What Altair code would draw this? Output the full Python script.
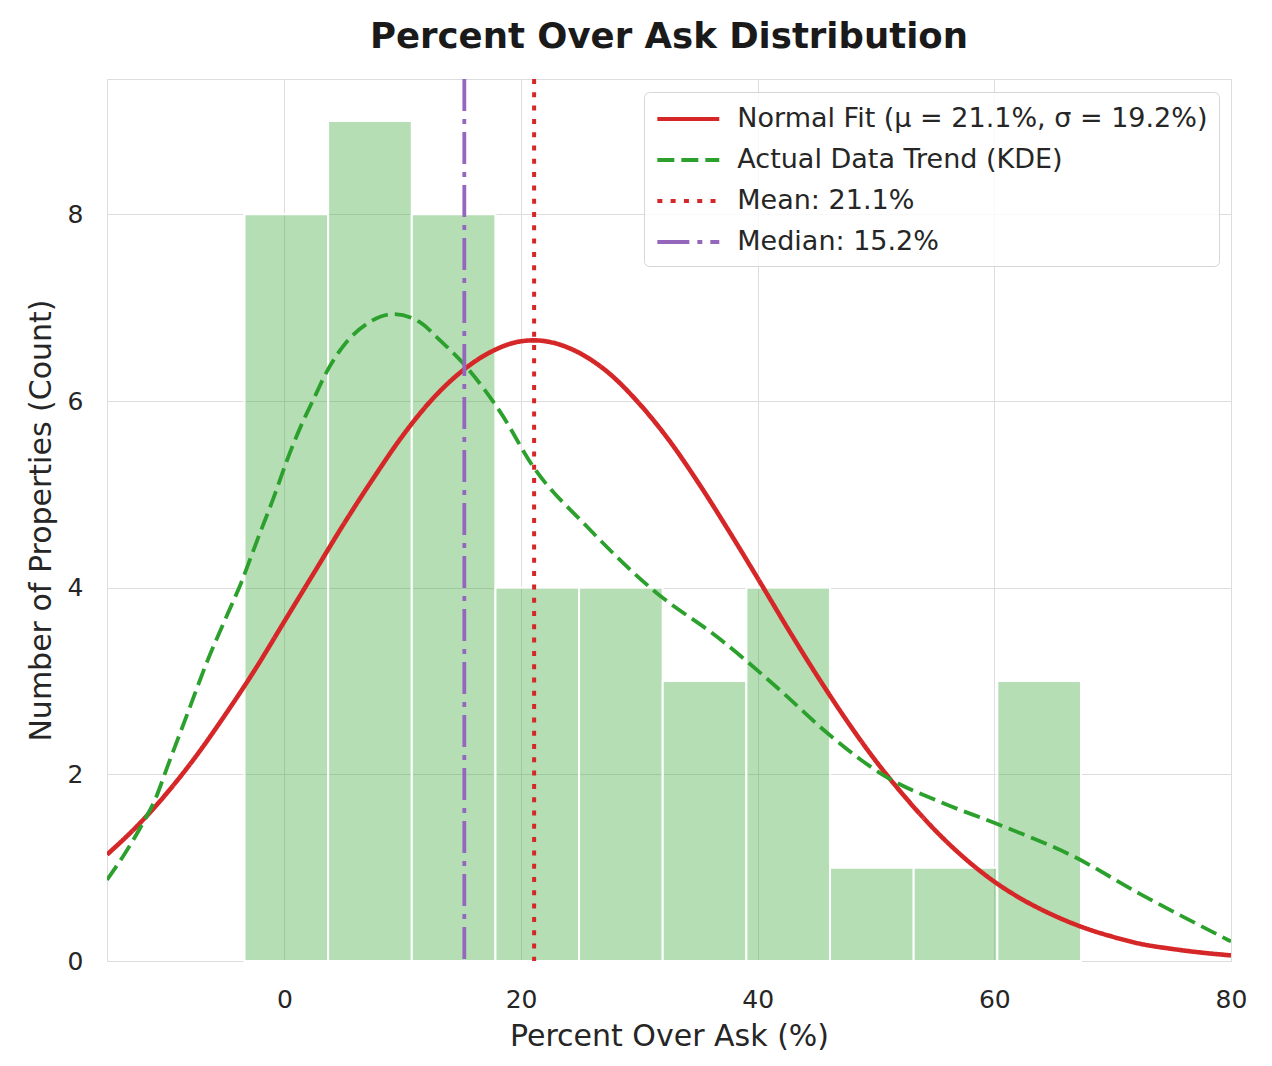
import altair as alt
import pandas as pd

# ---------------- data ----------------
bin_edges = [-3.38, 3.69, 10.76, 17.83, 24.90, 31.97, 39.04, 46.11, 53.18, 60.25, 67.32]
bin_counts = [8, 9, 8, 4, 4, 3, 4, 1, 1, 3]

normal_x = [-15, -12.5, -10, -7.5, -5, -2.5, 0, 2.5, 5, 7.5, 10, 12.5, 15, 17.5, 20, 21.1,
            22.5, 25, 27.5, 30, 32.5, 35, 37.5, 40, 42.5, 45, 47.5, 50, 52.5, 55, 57.5,
            60, 62.5, 65, 67.5, 70, 72.5, 75, 77.5, 80]
normal_y = [1.14, 1.44, 1.79, 2.19, 2.64, 3.12, 3.64, 4.16, 4.68, 5.17, 5.63, 6.02, 6.32, 6.53,
            6.64, 6.65, 6.63, 6.51, 6.29, 5.97, 5.58, 5.12, 4.62, 4.10, 3.57, 3.06, 2.58, 2.14,
            1.75, 1.40, 1.10, 0.85, 0.65, 0.49, 0.36, 0.26, 0.18, 0.13, 0.09, 0.06]

kde_x = [-15, -13.5, -12, -10.9, -9.9, -8.2, -6.5, -4.8, -3.7, -2.3, -0.9, 0.2, 1.35, 2.5,
         3.6, 5.3, 7.0, 9.2, 11.5, 12.9, 15.2, 18.3, 21, 25.6, 31.2, 36.8, 41.9, 45.9, 50.9,
         55.5, 60.2, 66.7, 72.3, 80]
kde_y = [0.87, 1.15, 1.47, 1.74, 2.08, 2.65, 3.22, 3.72, 4.04, 4.51, 4.97, 5.36, 5.72, 6.03,
         6.32, 6.64, 6.83, 6.93, 6.84, 6.68, 6.39, 5.87, 5.30, 4.65, 3.97, 3.45, 2.90, 2.44,
         1.97, 1.70, 1.47, 1.12, 0.72, 0.21]

mean_value = [21.1]
median_value = [15.2]

series_names = ["Normal Fit (μ = 21.1%, σ = 19.2%)", "Actual Data Trend (KDE)",
                "Mean: 21.1%", "Median: 15.2%"]
x_ticks = [0, 20, 40, 60, 80]
y_ticks = [0, 2, 4, 6, 8]

# ---------------- styles ----------------
series_colors = ["#d62728", "#2ca02c", "#d62728", "#9467bd"]
series_dashes = [[1, 0], [17, 7], [5, 8.3], [32, 8, 5, 8]]
FONT = "DejaVu Sans"
TEXT = "#262626"

bars_df = pd.DataFrame({"x0": bin_edges[:-1], "x1": bin_edges[1:], "count": bin_counts})
normal_df = pd.DataFrame({"x": normal_x, "y": normal_y, "series": series_names[0]})
kde_df = pd.DataFrame({"x": kde_x, "y": kde_y, "series": series_names[1]})
mean_df = pd.DataFrame({"x": mean_value, "series": series_names[2]})
median_df = pd.DataFrame({"x": median_value, "series": series_names[3]})

xscale = alt.Scale(domain=[-15, 80], nice=False, zero=False)
yscale = alt.Scale(domain=[0, 9.45], nice=False)

x_axis = alt.Axis(values=x_ticks, title="Percent Over Ask (%)", grid=True, ticks=False,
                  domain=False, labelFont=FONT, titleFont=FONT, labelColor=TEXT, titleColor=TEXT,
                  labelFontSize=25, labelBaseline="alphabetic", labelPadding=46,
                  titleFontSize=30, titleFontWeight="normal", titleBaseline="alphabetic",
                  titleY=84, labelFlush=False, format="d")
y_axis = alt.Axis(values=y_ticks, title="Number of Properties (Count)", grid=True, ticks=False,
                  domain=False, labelFont=FONT, titleFont=FONT, labelColor=TEXT, titleColor=TEXT,
                  labelFontSize=25, labelPadding=24, format="d",
                  titleFontSize=30, titleFontWeight="normal", titleBaseline="alphabetic",
                  titleX=-57)

# legend symbol: a horizontal stroke wider than its nominal (layout) size
legend = alt.Legend(title=None, orient="none", legendX=537, legendY=13,
                    symbolType="M-2.26,0H2.26", symbolSize=751, symbolStrokeWidth=4,
                    symbolOffset=17.3,
                    labelFontSize=27, labelFont=FONT, labelColor=TEXT, labelLimit=800,
                    labelOffset=33, fillColor="rgba(255,255,255,0.82)", strokeColor="#d6d6d6",
                    cornerRadius=5, padding=11, rowPadding=12)

color_enc = alt.Color("series:N", scale=alt.Scale(domain=series_names, range=series_colors),
                      legend=legend)
dash_enc = alt.StrokeDash("series:N", scale=alt.Scale(domain=series_names, range=series_dashes),
                          legend=legend)

bars = alt.Chart(bars_df).mark_rect(fill="#2ca02c", fillOpacity=0.35, stroke="white",
                                    strokeWidth=2).encode(
    x=alt.X("x0:Q", scale=xscale, axis=x_axis),
    x2="x1:Q",
    y=alt.Y("count:Q", scale=yscale, axis=y_axis),
    y2=alt.datum(0),
)

normal = alt.Chart(normal_df).mark_line(strokeWidth=4.6, interpolate="monotone", clip=True).encode(
    x=alt.X("x:Q", scale=xscale), y=alt.Y("y:Q", scale=yscale),
    color=color_enc, strokeDash=dash_enc)

kde = alt.Chart(kde_df).mark_line(strokeWidth=3.8, interpolate="monotone", clip=True).encode(
    x=alt.X("x:Q", scale=xscale), y=alt.Y("y:Q", scale=yscale),
    color=color_enc, strokeDash=dash_enc)

mean_rule = alt.Chart(mean_df).mark_rule(strokeWidth=4).encode(
    x=alt.X("x:Q", scale=xscale), color=color_enc, strokeDash=dash_enc)

median_rule = alt.Chart(median_df).mark_rule(strokeWidth=3.8).encode(
    x=alt.X("x:Q", scale=xscale), color=color_enc, strokeDash=dash_enc)

chart = alt.layer(bars, normal, kde, mean_rule, median_rule).properties(
    width=1124, height=882,
    title=alt.TitleParams("Percent Over Ask Distribution", fontSize=35.5, font=FONT,
                          fontWeight="bold", color="#1a1a1a", anchor="middle", offset=22),
    autosize=alt.AutoSizeParams(type="none"),
    padding={"left": 99, "top": 71, "right": 33, "bottom": 97},
).configure_view(
    stroke="#cccccc", strokeWidth=3, fill="white"
).configure_axis(
    gridColor="#d3d3d3", gridWidth=2.5
).configure(background="white", font=FONT)

chart.save("out.html", embed_options={"renderer": "svg", "actions": False})
